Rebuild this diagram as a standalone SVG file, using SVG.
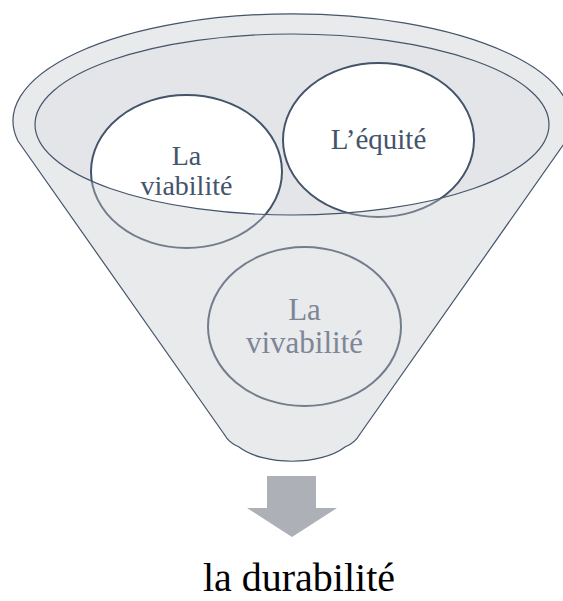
<svg xmlns="http://www.w3.org/2000/svg" width="563" height="601" viewBox="0 0 563 601">
<style>
.t{font-family:"Liberation Serif","Times New Roman",serif;text-anchor:middle}
.dk{fill:#44546a}
.lt{fill:#7d8697}
.up{fill:#ffffff;stroke:#44546a;stroke-width:2}
.lo{fill:#e9eaec;stroke:#737d8c;stroke-width:2}
</style>
<defs>
<clipPath id="inside"><ellipse cx="292" cy="124.5" rx="257" ry="90.5"/></clipPath>
<clipPath id="outside"><path clip-rule="evenodd" d="M0 0H563V601H0Z M35 124.5A257 90.5 0 1 0 549 124.5A257 90.5 0 1 0 35 124.5Z"/></clipPath>
</defs>
<g id="funnel">
<path d="M18 141A279 107 0 1 1 566 141L360 434Q355 443 345 447C320 466 264 466 239 447Q229 443 224 434Z" fill="#e9eaec" stroke="#44546a" stroke-width="1.2"/>
<ellipse cx="292" cy="124.5" rx="257" ry="90.5" fill="#e4e5e8"/>
</g>
<g id="viabilite">
<ellipse class="up" cx="186.5" cy="171.5" rx="95.5" ry="76.5" clip-path="url(#inside)"/>
<ellipse class="lo" cx="186.5" cy="171.5" rx="95.5" ry="76.5" clip-path="url(#outside)"/>
</g>
<g id="equite">
<ellipse class="up" cx="378.5" cy="140" rx="95.5" ry="77" clip-path="url(#inside)"/>
<ellipse class="lo" cx="378.5" cy="140" rx="95.5" ry="77" clip-path="url(#outside)"/>
</g>
<g id="vivabilite">
<ellipse class="lo" cx="304.5" cy="326.5" rx="96.5" ry="79.5"/>
<text class="t lt" x="304.5" y="320" font-size="31">La</text>
<text class="t lt" x="304.5" y="353" font-size="31">vivabilité</text>
</g>
<g id="rim">
<ellipse cx="292" cy="124.5" rx="257" ry="90.5" fill="none" stroke="#44546a" stroke-width="1.2"/>
</g>
<g id="labels">
<text class="t dk" x="186.5" y="165" font-size="28">La</text>
<text class="t dk" x="186.5" y="195" font-size="28">viabilité</text>
<text class="t dk" x="378.5" y="149" font-size="29">L’équité</text>
</g>
<g id="connectors">
<polygon points="267,476 316,476 316,508 337,508 292,537 247,508 267,508" fill="#adb0b7"/>
</g>
<g id="result">
<text class="t" x="299" y="591" font-size="40" fill="#000000">la durabilité</text>
</g>
</svg>
